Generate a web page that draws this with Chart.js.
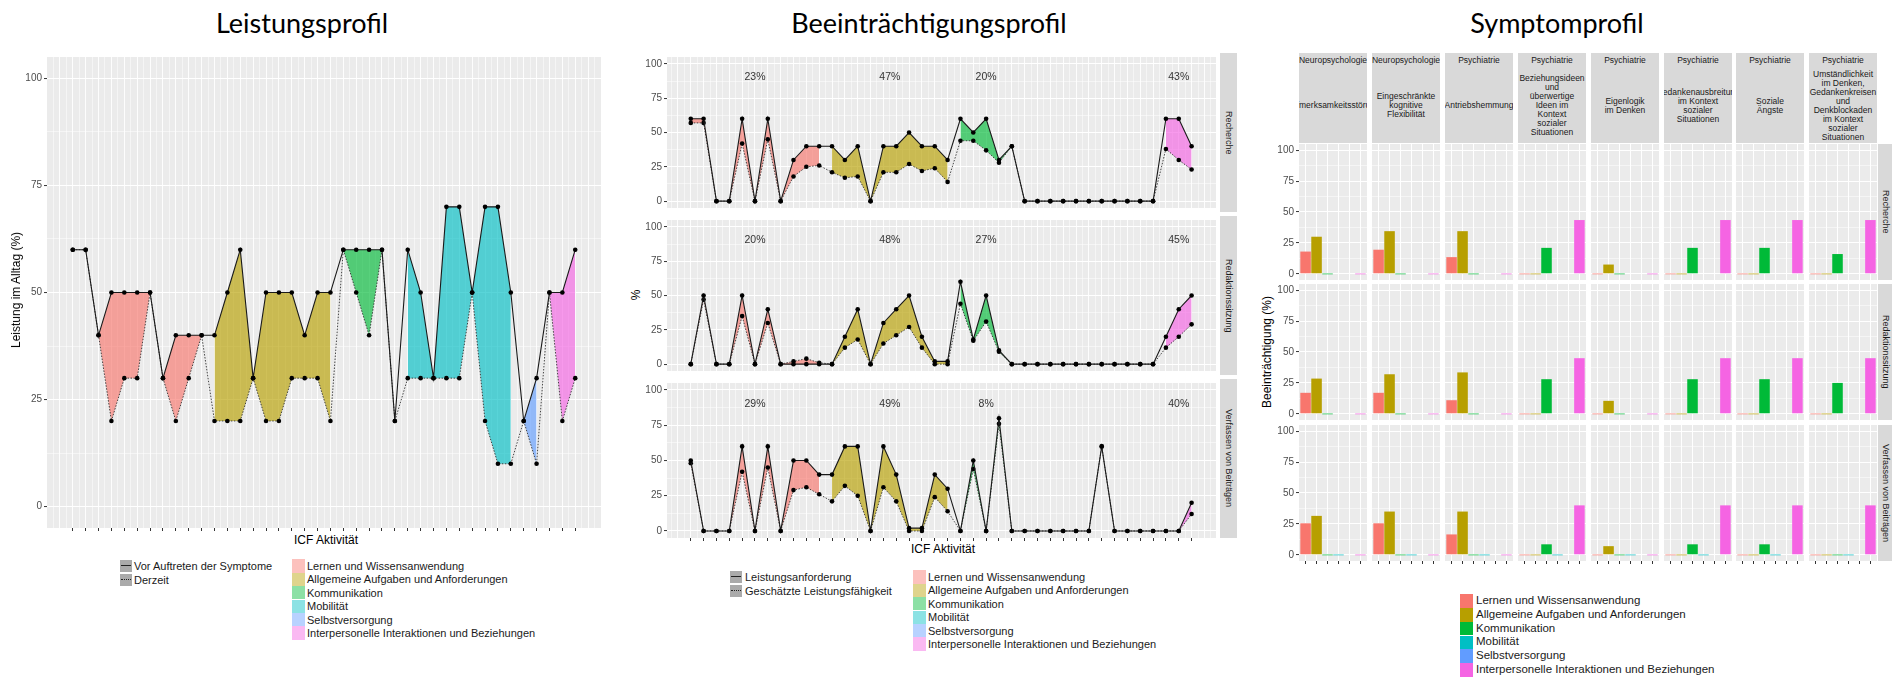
<!DOCTYPE html>
<html lang="de">
<head>
<meta charset="UTF-8">
<title>Leistungsprofil, Beeinträchtigungsprofil, Symptomprofil</title>
<script src="https://cdn.jsdelivr.net/npm/chart.js@4.4.1/dist/chart.umd.min.js"></script>
<style>
html, body { margin: 0; padding: 0; background: #fff; }
body { position: relative; width: 1892px; height: 679px; overflow: hidden; font-family: "Liberation Sans", Arial, sans-serif; color: #000; }
canvas { position: absolute; }
.c { position: absolute; white-space: nowrap; line-height: 1; transform: translate(-50%, -50%); }
.l { position: absolute; white-space: nowrap; line-height: 1; transform: translateY(-50%); }
.title { font-family: Lato, "Liberation Sans", sans-serif; font-size: 27px; }
.axt { font-size: 12px; }
.rot { transform: translate(-50%, -50%) rotate(-90deg); }
.strip { position: absolute; background: #D9D9D9; overflow: hidden; display: flex; flex-direction: column; align-items: center; justify-content: center; color: #1A1A1A; font-size: 8.5px; line-height: 9px; }
.strip div { white-space: nowrap; }
.vtext { writing-mode: vertical-rl; white-space: nowrap; font-size: 9px; }
.key { position: absolute; }
</style>
</head>
<body>

<script>
// ---------- data ----------
const domainNames = ['Lernen und Wissensanwendung', 'Allgemeine Aufgaben und Anforderungen', 'Kommunikation',
                     'Mobilität', 'Selbstversorgung', 'Interpersonelle Interaktionen und Beziehungen'];
const domainColors = ['#F8766D', '#B79F00', '#00BA38', '#00BFC4', '#619CFF', '#F564E3'];
// domain of each of the 40 ICF activities
const activityDomain = [0,0,0,0,0,0,0,0,0,0,0, 1,1,1,1,1,1,1,1,1,1, 2,2,2,2,2, 3,3,3,3,3,3,3,3,3, 4,4, 5,5,5];
const yTicks = [0, 25, 50, 75, 100];

// Leistungsprofil
const leistungVor      = [60,60,40,50,50,50,50,30,40,40, 40,40,50,60,30,50,50,50,40,50, 50,60,60,60,60,20,60,50,30,70, 70,50,70,70,50,20,30,50,50,60];
const leistungDerzeit  = [60,60,40,20,30,30,50,30,20,30, 40,20,20,20,30,20,20,30,30,30, 20,60,50,40,60,20,30,30,30,30, 30,50,20,10,10,20,10,50,20,30];

// Beeinträchtigungsprofil
const contexts = ['Recherche', 'Redaktionssitzung', 'Verfassen von Beiträgen'];
const anforderungRecherche = [60,60,0,0,60,0,60,0,30,40, 40,40,30,40,0,40,40,50,40,40, 30,60,50,60,30,40,0,0,0,0, 0,0,0,0,0,0,0,60,60,40];
const faehigkeitRecherche  = [57,57,0,0,42,0,45,0,18,25, 26,21,17,18,0,21,21,27,22,24, 14,44,44,37,28,40,0,0,0,0, 0,0,0,0,0,0,0,38,30,23];
const anforderungRedaktion = [0,50,0,0,50,0,40,0,0,0, 0,0,20,40,0,30,40,50,20,2, 2,60,18,50,10,0,0,0,0,0, 0,0,0,0,0,0,0,20,40,50];
const faehigkeitRedaktion  = [0,47,0,0,35,0,30,0,2,4, 1,0,12,18,0,15,21,27,12,0, 0,44,17,31,9,0,0,0,0,0, 0,0,0,0,0,0,0,12,20,29];
const anforderungVerfassen = [50,0,0,0,60,0,60,0,50,50, 40,40,60,60,0,60,40,2,2,40, 30,0,50,0,80,0,0,0,0,0, 0,0,60,0,0,0,0,0,0,20];
const faehigkeitVerfassen  = [48,0,0,0,42,0,45,0,29,31, 26,21,32,25,0,31,21,0,0,24, 14,0,44,0,76,0,0,0,0,0, 0,0,60,0,0,0,0,0,0,12];
const anteilDomains   = [0, 1, 2, 5];
const anteilRecherche = ['23%', '47%', '20%', '43%'];
const anteilRedaktion = ['20%', '48%', '27%', '45%'];
const anteilVerfassen = ['29%', '49%', '8%', '40%'];
const anteilY = 90;

// Symptomprofil (one row of six domain values per symptom, null = no bar)
const symptomGroups = ['Neuropsychologie', 'Neuropsychologie', 'Psychiatrie', 'Psychiatrie',
                       'Psychiatrie', 'Psychiatrie', 'Psychiatrie', 'Psychiatrie'];
const symptomNames = ['Aufmerksamkeitsstörung', 'Eingeschränkte\nkognitive\nFlexibilität', 'Antriebshemmung',
  'Beziehungsideen\nund\nüberwertige\nIdeen im\nKontext\nsozialer\nSituationen', 'Eigenlogik\nim Denken',
  'Gedankenausbreitung\nim Kontext\nsozialer\nSituationen', 'Soziale\nÄngste',
  'Umständlichkeit\nim Denken,\nGedankenkreisen\nund\nDenkblockaden\nim Kontext\nsozialer\nSituationen'];
const symptomRecherche = [
  [18, 30, 0, null, null, 0], [19.5, 34.5, 0, null, null, 0], [13.5, 34.5, 0, null, null, 0], [0, 0, 21, null, null, 43.5],
  [0, 7.5, 0, null, null, 0], [0, 0, 21, null, null, 43.5], [0, 0, 21, null, null, 43.5], [0, 0, 16, null, null, 43.5]];
const symptomRedaktion = [
  [17, 28.5, 0, null, null, 0], [17, 32, 0, null, null, 0], [11, 33.5, 0, null, null, 0], [0, 0, 28, null, null, 45],
  [0, 10.5, 0, null, null, 0], [0, 0, 28, null, null, 45], [0, 0, 28, null, null, 45], [0, 0, 25, null, null, 45]];
const symptomVerfassen = [
  [25.5, 31.5, 0, 0, null, 0], [25.5, 35, 0, 0, null, 0], [16.5, 35, 0, 0, null, 0], [0, 0, 8.5, 0, null, 40],
  [0, 7, 0, 0, null, 0], [0, 0, 8.5, 0, null, 40], [0, 0, 8.5, 0, null, 40], [0, 0, 0, 0, null, 40]];

// ---------- helpers ----------
const family = '"Liberation Sans", Arial, sans-serif';

function rgba(hex, a) {
  const n = parseInt(hex.slice(1), 16);
  return `rgba(${n >> 16},${(n >> 8) & 255},${n & 255},${a})`;
}

function text(str, x, y, cls, css) {
  const d = document.createElement('div');
  d.className = cls;
  d.textContent = str;
  d.style.left = x + 'px';
  d.style.top = y + 'px';
  if (css) d.style.cssText += css;
  document.body.appendChild(d);
  return d;
}

function box(x, y, w, h, css) {
  const d = document.createElement('div');
  d.style.cssText = `position:absolute;left:${x}px;top:${y}px;width:${w}px;height:${h}px;` + (css || '');
  document.body.appendChild(d);
  return d;
}

const panelBg = {
  id: 'panelBg',
  beforeDraw(chart) {
    const a = chart.chartArea, c = chart.ctx;
    c.save();
    c.fillStyle = '#EBEBEB';
    c.fillRect(a.left, a.top, a.right - a.left, a.bottom - a.top);
    c.restore();
  }
};

const pctLabels = {
  id: 'pctLabels',
  afterDatasetsDraw(chart, args, opts) {
    if (!opts.items) return;
    const c = chart.ctx, xs = chart.scales.x, ys = chart.scales.y;
    c.save();
    c.font = '10.5px ' + family;
    c.fillStyle = '#333333';
    c.textAlign = 'center';
    c.textBaseline = 'middle';
    opts.items.forEach(it => c.fillText(it.text, xs.getPixelForValue(it.x), ys.getPixelForValue(it.y)));
    c.restore();
  }
};

function addChart(area, yw, xh, config) {
  const cv = document.createElement('canvas');
  const w = area.w + yw, h = area.h + xh;
  cv.width = w;
  cv.height = h;
  cv.style.cssText = `left:${area.x - yw}px;top:${area.y}px;width:${w}px;height:${h}px`;
  document.body.appendChild(cv);
  config.options.responsive = false;
  config.options.animation = false;
  config.options.events = [];
  config.options.layout = { padding: 0 };
  config.options.plugins = Object.assign({ legend: { display: false }, tooltip: { enabled: false } }, config.options.plugins);
  config.plugins = [panelBg, pctLabels];
  return new Chart(cv, config);
}

const isMajorY = v => yTicks.includes(v);
const yGrid = [];
yTicks.forEach((v, i) => { yGrid.push(v); if (i < yTicks.length - 1) yGrid.push((v + yTicks[i + 1]) / 2); });

function yAxis(yw) {
  const show = yw > 0;
  return {
    type: 'linear', min: -5, max: 105,
    afterBuildTicks: s => { s.ticks = yGrid.map(v => ({ value: v })); },
    afterFit: s => { s.width = yw; s.paddingTop = 0; s.paddingBottom = 0; },
    border: { display: false },
    grid: {
      color: '#FFFFFF',
      lineWidth: c => isMajorY(c.tick.value) ? 1.1 : 0.5,
      drawTicks: show, tickLength: 3, tickWidth: 1,
      tickColor: c => isMajorY(c.tick.value) ? '#333333' : 'rgba(0,0,0,0)'
    },
    ticks: {
      display: show, autoSkip: false, padding: 2, color: '#4D4D4D',
      font: { family: family, size: 10 },
      callback: v => isMajorY(v) ? String(v) : ''
    }
  };
}

const activities = activityDomain.map((d, i) => i);
const xGrid = [];
for (let v = -1.5; v <= activities.length + 0.5; v += 0.5) xGrid.push(v);

function xLineAxis(xh, min, max) {
  return {
    type: 'linear', min: min, max: max,
    afterBuildTicks: s => { s.ticks = xGrid.map(v => ({ value: v })); },
    afterFit: s => { s.height = xh; s.paddingLeft = 0; s.paddingRight = 0; },
    border: { display: false },
    grid: {
      color: '#FFFFFF',
      lineWidth: c => Number.isInteger(c.tick.value) ? 0.9 : 0.5,
      drawTicks: xh > 0, tickLength: 3, tickWidth: 1,
      tickColor: c => activities.includes(c.tick.value) ? '#333333' : 'rgba(0,0,0,0)'
    },
    ticks: { display: false }
  };
}

function xBarAxis(xh) {
  return {
    type: 'linear', min: 0.4, max: 6.6, offset: false,
    afterBuildTicks: s => { s.ticks = domainNames.map((n, i) => ({ value: i + 1 })); },
    afterFit: s => { s.height = xh; s.paddingLeft = 0; s.paddingRight = 0; },
    border: { display: false },
    grid: { color: '#FFFFFF', lineWidth: 1, offset: false, drawTicks: xh > 0, tickLength: 3, tickWidth: 1, tickColor: '#333333' },
    ticks: { display: false }
  };
}

const pts = arr => arr.map((v, i) => ({ x: i, y: v }));

function profileDatasets(upper, lower) {
  const sets = [
    { data: pts(upper), borderColor: '#1A1A1A', borderWidth: 1.1, pointRadius: 2.3, pointBackgroundColor: '#000',
      pointBorderWidth: 0, fill: false, tension: 0 },
    { data: pts(lower), borderColor: '#333333', borderWidth: 0.9, borderDash: [1.5, 1.5], pointRadius: 2.3,
      pointBackgroundColor: '#000', pointBorderWidth: 0, fill: false, tension: 0 }
  ];
  domainColors.forEach((col, d) => {
    const inDomain = arr => arr.map((v, i) => ({ x: i, y: activityDomain[i] === d ? v : null }));
    sets.push({ data: inDomain(upper), fill: '+1', backgroundColor: rgba(col, 0.65), borderColor: 'rgba(0,0,0,0)',
                borderWidth: 0, pointRadius: 0 });
    sets.push({ data: inDomain(lower), fill: false, borderColor: 'rgba(0,0,0,0)', borderWidth: 0, pointRadius: 0 });
  });
  return sets;
}

function domainCenter(d) {
  const idx = activities.filter(i => activityDomain[i] === d);
  return (idx[0] + idx[idx.length - 1]) / 2;
}

// ---------- titles ----------
text('Leistungsprofil', 302, 22, 'c title');
text('Beeinträchtigungsprofil', 929, 22, 'c title');
text('Symptomprofil', 1557, 22, 'c title');

// ---------- Leistungsprofil ----------
addChart({ x: 47, y: 53, w: 558, h: 475 }, 26, 4, {
  type: 'line',
  data: { datasets: profileDatasets(leistungVor, leistungDerzeit) },
  options: { scales: { x: xLineAxis(4, -2, 41), y: yAxis(26) } }
});
text('Leistung im Alltag (%)', 16, 290, 'c axt rot');
text('ICF Aktivität', 326, 540, 'c axt');

// ---------- Beeinträchtigungsprofil ----------
const anforderung = [anforderungRecherche, anforderungRedaktion, anforderungVerfassen];
const faehigkeit = [faehigkeitRecherche, faehigkeitRedaktion, faehigkeitVerfassen];
const anteile = [anteilRecherche, anteilRedaktion, anteilVerfassen];
const midTops = [53, 216, 379];
contexts.forEach((ctxName, r) => {
  const xh = r === 2 ? 4 : 0;
  addChart({ x: 667, y: midTops[r], w: 553, h: 159 }, 22, xh, {
    type: 'line',
    data: { datasets: profileDatasets(anforderung[r], faehigkeit[r]) },
    options: {
      scales: { x: xLineAxis(xh, -1.85, 40.9), y: yAxis(22) },
      plugins: { pctLabels: { items: anteilDomains.map((d, i) => ({ x: domainCenter(d), y: anteilY, text: anteile[r][i] })) } }
    }
  });
  const s = box(1220, midTops[r], 17, 159);
  s.className = 'strip';
  const t = document.createElement('span');
  t.className = 'vtext';
  t.textContent = ctxName;
  s.appendChild(t);
});
text('%', 636, 295, 'c axt rot');
text('ICF Aktivität', 943, 549, 'c axt');

// ---------- Symptomprofil ----------
const symptomRows = [symptomRecherche, symptomRedaktion, symptomVerfassen];
const rightTops = [144, 284, 425];
const colX = symptomNames.map((n, i) => Math.round(1299 + 72.9 * i));
symptomRows.forEach((rowData, r) => {
  rowData.forEach((vals, f) => {
    const yw = f === 0 ? 22 : 0, xh = r === 2 ? 4 : 0;
    addChart({ x: colX[f], y: rightTops[r], w: 68, h: 136 }, yw, xh, {
      type: 'bar',
      data: { datasets: [{
        data: vals.map((v, i) => ({ x: i + 1, y: v })),
        backgroundColor: vals.map((v, i) => v === 0 ? rgba(domainColors[i], 0.45) : domainColors[i]),
        minBarLength: 1.5, barPercentage: 1, categoryPercentage: 0.96
      }] },
      options: { scales: { x: xBarAxis(xh), y: yAxis(yw) } }
    });
  });
  const s = box(1878, rightTops[r], 14, 136);
  s.className = 'strip';
  const t = document.createElement('span');
  t.className = 'vtext';
  t.textContent = contexts[r];
  s.appendChild(t);
});
symptomNames.forEach((name, f) => {
  const top = box(colX[f], 53, 68, 15);
  top.className = 'strip';
  top.innerHTML = '<div></div>';
  top.firstChild.textContent = symptomGroups[f];
  const low = box(colX[f], 68, 68, 75);
  low.className = 'strip';
  name.split('\n').forEach(line => {
    const d = document.createElement('div');
    d.textContent = line;
    low.appendChild(d);
  });
});
text('Beeinträchtigung (%)', 1267, 352, 'c axt rot');

// ---------- legends ----------
function lineKey(x, y, dotted) {
  const k = box(x, y - 6, 12, 12, 'background:#AAAAAA;');
  const ln = box(x + 1, y - 1, 10, 0, `border-top:1.3px ${dotted ? 'dotted' : 'solid'} #222;`);
  return [k, ln];
}
function fillKey(x, y, h, color) {
  box(x, y - h / 2, 13, h, `background:${color};`);
}

// left
lineKey(120, 566, false); text('Vor Auftreten der Symptome', 134, 566, 'l', 'font-size:11px;color:#1A1A1A;');
lineKey(120, 580, true);  text('Derzeit', 134, 580, 'l', 'font-size:11px;color:#1A1A1A;');
domainNames.forEach((n, i) => {
  const y = 566 + 13.4 * i;
  fillKey(292, y, 13.4, rgba(domainColors[i], 0.45));
  text(n, 307, y, 'l', 'font-size:11px;color:#1A1A1A;');
});

// middle
lineKey(730, 577, false); text('Leistungsanforderung', 745, 577, 'l', 'font-size:11px;color:#1A1A1A;');
lineKey(730, 591, true);  text('Geschätzte Leistungsfähigkeit', 745, 591, 'l', 'font-size:11px;color:#1A1A1A;');
domainNames.forEach((n, i) => {
  const y = 577 + 13.4 * i;
  fillKey(913, y, 13.4, rgba(domainColors[i], 0.45));
  text(n, 928, y, 'l', 'font-size:11px;color:#1A1A1A;');
});

// right
domainNames.forEach((n, i) => {
  const y = 601 + 13.8 * i;
  fillKey(1460, y, 13.8, domainColors[i]);
  text(n, 1476, y, 'l', 'font-size:11.5px;color:#1A1A1A;');
});
</script>
</body>
</html>
